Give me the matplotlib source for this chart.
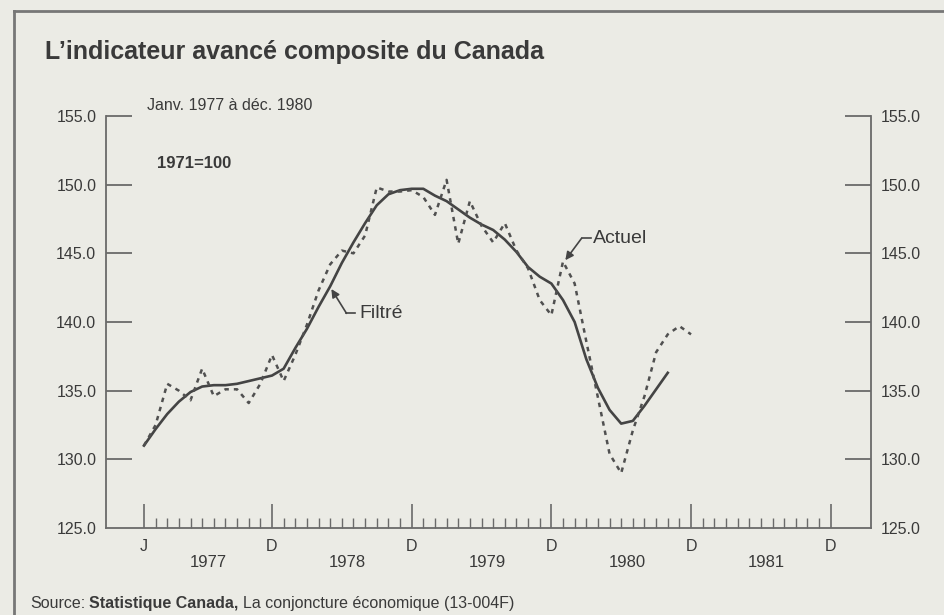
import matplotlib
matplotlib.use("Agg")
import matplotlib.pyplot as plt
import numpy as np

plt.rcParams["font.family"] = ["Liberation Sans", "DejaVu Sans"]

# monthly index, 0 = janv. 1977
filtre = [131.0, 132.2, 133.3, 134.2, 134.9, 135.3, 135.4, 135.4, 135.5, 135.7,
          135.9, 136.1, 136.6, 138.1, 139.5, 141.1, 142.6, 144.3, 145.8, 147.2,
          148.5, 149.3, 149.6, 149.7, 149.7, 149.2, 148.8, 148.2, 147.6, 147.1,
          146.7, 146.0, 145.1, 144.0, 143.3, 142.8, 141.6, 140.0, 137.3, 135.2,
          133.6, 132.6, 132.8, 133.9, 135.1, 136.3]
actuel = [131.0, 132.5, 135.5, 135.0, 134.3, 136.6, 134.6, 135.1, 135.1, 134.1,
          135.5, 137.6, 135.7, 137.6, 139.8, 142.3, 144.2, 145.2, 145.0, 146.3,
          149.8, 149.5, 149.5, 149.6, 149.1, 147.8, 150.35, 145.7, 148.8, 147.0,
          145.8, 147.2, 145.2, 143.9, 141.6, 140.5, 144.4, 142.8, 138.6, 134.5,
          130.4, 129.0, 132.1, 134.6, 137.8, 139.1, 139.7, 139.1]
months_f = np.arange(len(filtre))
months_a = np.arange(len(actuel))

years = ["1977", "1978", "1979", "1980", "1981"]
month_labels = ["J", "D", "D", "D", "D", "D"]
label_months = [0, 11, 23, 35, 47, 59]
y_ticks = [125, 130, 135, 140, 145, 150, 155]

W, H = 944, 615
paper = "#ebebe5"
ink = "#3a3a3a"
axis_col = "#6a6a6a"

fig = plt.figure(figsize=(W / 100, H / 100), dpi=100, facecolor=paper)


def fx(px):
    return px / W


def fy(py):
    return 1 - py / H


ax = fig.add_axes([fx(106), fy(528), fx(871) - fx(106), fy(116) - fy(528)])
ax.set_facecolor(paper)

ax.plot(months_f, filtre, color="#444444", lw=1.9, solid_joinstyle="round")
ax.plot(months_a, actuel, color="#505050", lw=1.8, linestyle=(0, (1.8, 2.0)))

ax.set_xlim(-3.26, 62.46)
ax.set_ylim(125, 155)

ax.spines["top"].set_visible(False)
for s in ["left", "right", "bottom"]:
    ax.spines[s].set_color(axis_col)
    ax.spines[s].set_linewidth(1.3)

ax.set_yticks(y_ticks)
ax.set_yticklabels([f"{v:.1f}" for v in y_ticks])
ax.tick_params(axis="y", direction="in", length=18.5, width=1.3, color=axis_col,
               left=True, right=True, labelleft=True, labelright=True,
               labelsize=11.5, labelcolor=ink, pad=7)
ax.yaxis.get_major_ticks()[0].tick1line.set_visible(False)
ax.yaxis.get_major_ticks()[0].tick2line.set_visible(False)

ax.set_xticks(label_months)
ax.set_xticklabels(month_labels)
ax.set_xticks(np.arange(0, 60), minor=True)
ax.tick_params(axis="x", which="major", direction="in", length=17, width=1.2,
               color=axis_col, labelsize=11.5, labelcolor=ink, pad=8)
ax.tick_params(axis="x", which="minor", direction="in", length=7, width=1.0,
               color=axis_col)

for i, yr in enumerate(years):
    ax.text(5.5 + 12 * i, -0.083, yr, transform=ax.get_xaxis_transform(),
            ha="center", va="center", fontsize=12, color=ink)

# annotations
ax.plot([17.4, 18.1], [140.63, 140.63], color="#444444", lw=1.2)
ax.annotate("", xy=(16.1, 142.4), xytext=(17.4, 140.63),
            arrowprops=dict(arrowstyle="-|>", color="#444444", lw=1.2,
                            shrinkA=0, shrinkB=0, mutation_scale=12))
ax.text(18.5, 140.63, "Filtré", ha="left", va="center", fontsize=14, color=ink)

ax.plot([37.6, 38.4], [146.1, 146.1], color="#444444", lw=1.2)
ax.annotate("", xy=(36.2, 144.5), xytext=(37.6, 146.1),
            arrowprops=dict(arrowstyle="-|>", color="#444444", lw=1.2,
                            shrinkA=0, shrinkB=0, mutation_scale=12))
ax.text(38.6, 146.1, "Actuel", ha="left", va="center", fontsize=14, color=ink)

# texts
fig.text(fx(45), fy(52), "L\u2019indicateur avancé composite du Canada",
         ha="left", va="center", fontsize=18, fontweight="bold", color=ink)
fig.text(fx(147), fy(105), "Janv. 1977 à déc. 1980", ha="left", va="center",
         fontsize=11.5, color=ink)
fig.text(fx(157), fy(164), "1971=100", ha="left", va="center",
         fontsize=12, fontweight="bold", color=ink)

t1 = fig.text(fx(30), fy(611), "Source:", ha="left", va="bottom",
              fontsize=11.5, color=ink)
t2 = ax.annotate("Statistique Canada,", xy=(1, 0), xycoords=t1,
                 xytext=(3, 0), textcoords="offset points", ha="left",
                 va="bottom", fontsize=11.5, fontweight="bold", color=ink,
                 annotation_clip=False)
ax.annotate("La conjoncture économique (13-004F)", xy=(1, 0), xycoords=t2,
            xytext=(3, 0), textcoords="offset points", ha="left", va="bottom",
            fontsize=11.5, color=ink, annotation_clip=False)

# page frame
fig.add_artist(plt.Line2D([fx(14), 1], [fy(11), fy(11)], color="#777777", lw=2))
fig.add_artist(plt.Line2D([fx(14), fx(14)], [fy(11), 0], color="#777777", lw=2))

fig.savefig("out.png", dpi=100, facecolor=paper)
